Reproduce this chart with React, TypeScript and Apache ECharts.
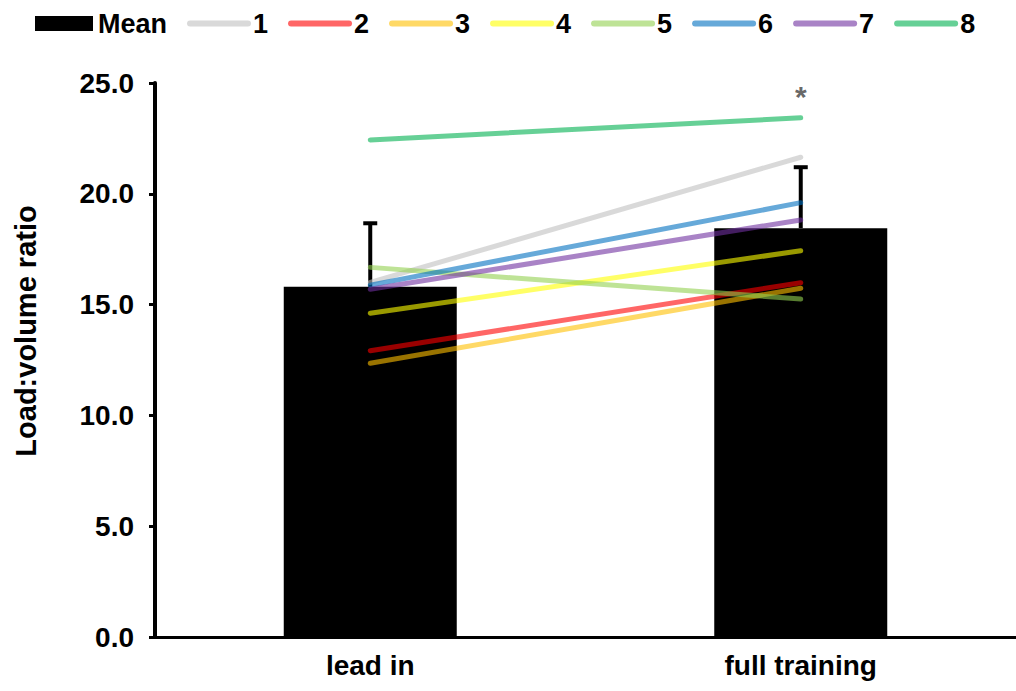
import React, { useEffect, useRef } from "react";
import * as echarts from "echarts";

const categories = ["lead in", "full training"];
const meanValues = [15.8, 18.45];
const errorTops = [18.67, 21.2];
const subjectNames = ["1", "2", "3", "4", "5", "6", "7", "8"];
const subjectValues = [
  [16.0, 21.65],
  [12.92, 15.99],
  [12.35, 15.74],
  [14.61, 17.43],
  [16.68, 15.25],
  [15.88, 19.6],
  [15.69, 18.82],
  [22.43, 23.43],
];
const subjectColors = [
  "rgba(191,191,191,0.6)",
  "rgba(255,0,0,0.6)",
  "rgba(255,192,0,0.6)",
  "rgba(255,255,0,0.6)",
  "rgba(146,208,80,0.6)",
  "rgba(0,112,192,0.6)",
  "rgba(112,48,160,0.6)",
  "rgba(0,176,80,0.6)",
];
const significance = [{ category: "full training", value: 24.4, mark: "*" }];
const yTicks = { min: 0, max: 25, interval: 5 };

const FONT = "'Liberation Sans', Arial, sans-serif";

export default function App() {
  const ref = useRef<HTMLDivElement>(null);
  useEffect(() => {
    if (!ref.current) return;
    const chart = echarts.init(ref.current, null, { renderer: "svg" });
    const lineSeries = subjectNames.map((name, i) => ({
      name,
      type: "line",
      data: subjectValues[i],
      symbol: "none",
      z: 5,
      lineStyle: { color: subjectColors[i], width: 5, cap: "round" },
      itemStyle: { color: subjectColors[i] },
    }));
    chart.setOption({
      animation: false,
      textStyle: { fontFamily: FONT },
      legend: {
        left: 30,
        top: 5,
        itemWidth: 58,
        itemHeight: 15,
        itemGap: 20,
        data: [
          { name: "Mean", icon: "rect" },
          ...subjectNames.map((n) => ({
            name: n,
            itemStyle: { opacity: 0 },
            lineStyle: { width: 6, cap: "round" },
          })),
        ],
        textStyle: { fontSize: 27, fontWeight: "bold", color: "#000", fontFamily: FONT },
      },
      grid: { left: 155, top: 83, bottom: 54, width: 872 },
      xAxis: {
        type: "category",
        data: categories,
        axisLine: { lineStyle: { color: "#000", width: 3 } },
        axisTick: { show: false },
        axisLabel: { fontSize: 28, fontWeight: "bold", color: "#000", margin: 14, fontFamily: FONT },
      },
      yAxis: {
        type: "value",
        min: yTicks.min,
        max: yTicks.max,
        interval: yTicks.interval,
        name: "Load:volume ratio",
        nameLocation: "middle",
        nameRotate: 90,
        nameGap: 115,
        nameTextStyle: {
          fontSize: 29,
          fontWeight: "bold",
          color: "#000",
          fontFamily: FONT,
          padding: [0, 0, 0, 58],
        },
        axisLine: { show: true, lineStyle: { color: "#000", width: 4 } },
        axisTick: { show: true, length: 6, lineStyle: { color: "#000", width: 3 } },
        splitLine: { show: false },
        axisLabel: {
          fontSize: 28,
          fontWeight: "bold",
          color: "#000",
          margin: 21,
          fontFamily: FONT,
          formatter: (v: number) => v.toFixed(1),
        },
      },
      series: [
        {
          name: "Mean",
          type: "bar",
          data: meanValues,
          barWidth: 173,
          itemStyle: { color: "#000" },
          z: 2,
        },
        {
          name: "error",
          type: "custom",
          z: 3,
          data: categories.map((c, i) => [i, meanValues[i], errorTops[i]]),
          renderItem: (params: any, api: any) => {
            const x = api.value(0);
            const base = api.coord([x, api.value(1)]);
            const top = api.coord([x, api.value(2)]);
            return {
              type: "group",
              children: [
                {
                  type: "line",
                  shape: { x1: base[0], y1: base[1], x2: top[0], y2: top[1] },
                  style: { stroke: "#000", lineWidth: 4 },
                },
                {
                  type: "line",
                  shape: { x1: top[0] - 7, y1: top[1], x2: top[0] + 7, y2: top[1] },
                  style: { stroke: "#000", lineWidth: 4 },
                },
              ],
            };
          },
        },
        ...lineSeries,
        {
          name: "sig",
          type: "scatter",
          symbolSize: 0,
          data: significance.map((s) => [s.category, s.value]),
          label: {
            show: true,
            position: "inside",
            formatter: () => significance[0].mark,
            fontSize: 30,
            fontWeight: "bold",
            color: "#404040",
            fontFamily: FONT,
          },
        },
      ],
    });
    return () => chart.dispose();
  }, []);
  return (
    <div
      ref={ref}
      style={{ position: "fixed", left: 0, top: 0, width: 1016, height: 691, background: "#fff" }}
    />
  );
}
